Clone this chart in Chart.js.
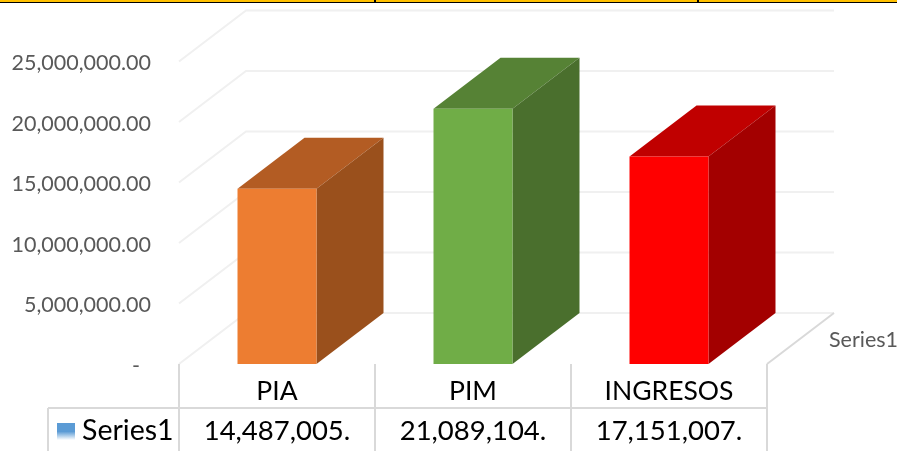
<!DOCTYPE html>
<html>
<head>
<meta charset="utf-8">
<style>
  html, body { margin: 0; padding: 0; background: #fff; overflow: hidden; }
  #c { display: block; }
</style>
<script src="https://cdn.jsdelivr.net/npm/chart.js@4/dist/chart.umd.min.js"></script>
</head>
<body>
<canvas id="c" width="897" height="451"></canvas>
<script>
const categories = ['PIA', 'PIM', 'INGRESOS'];
const values = [14487005, 21089104, 17151007];
const tableLabels = ['14,487,005.', '21,089,104.', '17,151,007.'];
const seriesName = 'Series1';
const frontColors = ['#ED7D31', '#70AD47', '#FF0000'];
const topColors = ['#B35C23', '#568235', '#C00000'];
const sideColors = ['#9A501C', '#4A6F2D', '#A30000'];

const DEPTH_X = 67;
const DEPTH_Y = 51;
const FONT = 'Lato, sans-serif';

function line(ctx, pts, color, width) {
  ctx.strokeStyle = color;
  ctx.lineWidth = width;
  ctx.beginPath();
  pts.forEach((p, i) => i ? ctx.lineTo(p[0], p[1]) : ctx.moveTo(p[0], p[1]));
  ctx.stroke();
}

function poly(ctx, pts, color) {
  ctx.fillStyle = color;
  ctx.beginPath();
  pts.forEach((p, i) => i ? ctx.lineTo(p[0], p[1]) : ctx.moveTo(p[0], p[1]));
  ctx.closePath();
  ctx.fill();
}

// walls and floor behind the bars, 3d faces of the bars
const depthPlugin = {
  id: 'depth',
  beforeDatasetsDraw(chart) {
    const { ctx, chartArea: a, scales: { y } } = chart;
    ctx.save();
    y.ticks.forEach(t => {
      const py = y.getPixelForValue(t.value);
      line(ctx, [[a.left, py], [a.left + DEPTH_X, py - DEPTH_Y], [a.right + DEPTH_X, py - DEPTH_Y]], '#F0F0F0', 2);
    });
    line(ctx, [[a.right, a.bottom], [a.right + DEPTH_X, a.bottom - DEPTH_Y]], '#D9D9D9', 2);
    chart.getDatasetMeta(0).data.forEach((bar, i) => {
      const l = bar.x - bar.width / 2, r = bar.x + bar.width / 2;
      poly(ctx, [[l, bar.y], [l + DEPTH_X, bar.y - DEPTH_Y], [r + DEPTH_X, bar.y - DEPTH_Y], [r, bar.y]], topColors[i]);
      poly(ctx, [[r, bar.y], [r + DEPTH_X, bar.y - DEPTH_Y], [r + DEPTH_X, bar.base - DEPTH_Y], [r, bar.base]], sideColors[i]);
    });
    ctx.restore();
  },
  // data table under the plot
  afterDraw(chart) {
    const { ctx, chartArea: a, scales: { x } } = chart;
    const rowY = 408, tableLeft = 48, colW = (a.right - a.left) / categories.length;
    ctx.save();
    for (let i = 0; i <= categories.length; i++) {
      const px = a.left + colW * i;
      line(ctx, [[px, a.bottom], [px, 451]], '#D9D9D9', 2);
    }
    line(ctx, [[tableLeft, rowY], [a.right, rowY]], '#D9D9D9', 2);
    line(ctx, [[tableLeft, rowY], [tableLeft, 451]], '#D9D9D9', 2);

    const grad = ctx.createLinearGradient(0, 423, 0, 440);
    grad.addColorStop(0, '#5B9BD5');
    grad.addColorStop(0.5, '#5B9BD5');
    grad.addColorStop(1, '#FFFFFF');
    ctx.fillStyle = grad;
    ctx.fillRect(57, 423, 18, 17);

    ctx.fillStyle = '#000';
    ctx.textBaseline = 'middle';
    ctx.font = '28.5px ' + FONT;
    ctx.textAlign = 'left';
    ctx.fillText(seriesName, 82, 431);
    ctx.font = '27.5px ' + FONT;
    ctx.textAlign = 'center';
    tableLabels.forEach((t, i) => ctx.fillText(t, x.getPixelForTick(i), 431));

    ctx.fillStyle = '#595959';
    ctx.font = '21.5px ' + FONT;
    ctx.textAlign = 'left';
    ctx.fillText(seriesName, 829, 340);

    // border strip of the source picture
    ctx.fillStyle = '#FFC000';
    ctx.fillRect(0, 0, 897, 2);
    ctx.fillStyle = '#000';
    ctx.fillRect(0, 2, 897, 1);
    ctx.fillRect(374, 0, 2, 3);
    ctx.fillRect(697, 0, 2, 3);
    ctx.restore();
  }
};

new Chart(document.getElementById('c'), {
  type: 'bar',
  data: {
    labels: categories,
    datasets: [{
      label: seriesName,
      data: values,
      backgroundColor: frontColors,
      barPercentage: 0.403,
      categoryPercentage: 1
    }]
  },
  options: {
    responsive: false,
    animation: false,
    layout: { padding: { top: 61.5, right: 130, bottom: 0, left: 0 } },
    plugins: { legend: { display: false }, tooltip: { enabled: false } },
    scales: {
      x: {
        grid: { display: false, drawTicks: false },
        border: { display: false },
        afterFit: s => { s.height = 87; },
        ticks: { color: '#000', padding: 12, maxRotation: 0, font: { family: FONT, size: 26.5 } }
      },
      y: {
        min: 0,
        max: 25000000,
        afterFit: s => { s.width = 179; },
        grid: { display: false, drawTicks: false },
        border: { display: false },
        ticks: {
          stepSize: 5000000,
          padding: 28,
          labelOffset: 2,
          color: '#595959',
          font: { family: FONT, size: 21.5 },
          callback: v => v === 0 ? '-  ' : v.toLocaleString('en-US', { minimumFractionDigits: 2 })
        }
      }
    }
  },
  plugins: [depthPlugin]
});
</script>
</body>
</html>
